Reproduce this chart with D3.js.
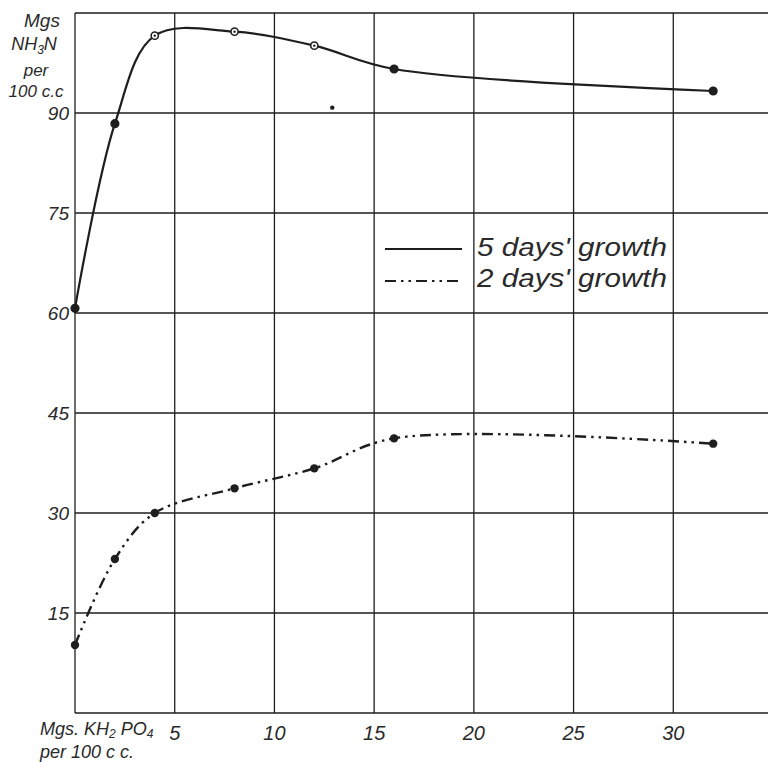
<!DOCTYPE html>
<html>
<head>
<meta charset="utf-8">
<script src="https://cdn.jsdelivr.net/npm/d3@7"></script>
<style>
  html, body { margin: 0; padding: 0; background: #fff; }
  svg { display: block; }
  text { font-family: "Liberation Sans", "DejaVu Sans", sans-serif; font-style: italic; fill: #2a2a2a; }
</style>
</head>
<body>
<svg id="chart" width="768" height="762"></svg>
<script>
// ---- data ----
const kh2po4 = [0, 2, 4, 8, 12, 16, 32];                 // mgs KH2PO4 per 100 cc
const fiveDays = [60.7, 88.4, 101.6, 102.2, 100.1, 96.6, 93.3];  // mgs NH3-N per 100 cc
const fiveDaysOpen = [false, false, true, true, true, false, false];
const twoDays = [10.2, 23.1, 30.0, 33.7, 36.7, 41.2, 40.4];
const strayMarks = [[12.9, 90.8]];
const xGrid = [0, 5, 10, 15, 20, 25, 30, 35];
const xTickLabels = ["5", "10", "15", "20", "25", "30"];
const xTickValues = [5, 10, 15, 20, 25, 30];
const yGrid = [0, 15, 30, 45, 60, 75, 90, 105];
const yTickValues = [15, 30, 45, 60, 75, 90];
const yTickLabels = ["15", "30", "45", "60", "75", "90"];
const seriesNames = ["5 days' growth", "2 days' growth"];

// ---- drawing ----
const svg = d3.select("#chart");
const x = d3.scaleLinear().domain([0, 35]).range([75, 773]);
const y = d3.scaleLinear().domain([0, 105]).range([713, 13]);
const ink = "#1e1e1e";

// grid
const grid = svg.append("g").attr("stroke", ink).attr("stroke-width", 1.3);
grid.selectAll("line.v").data(xGrid).join("line")
  .attr("x1", d => x(d)).attr("x2", d => x(d))
  .attr("y1", y(105)).attr("y2", y(0));
grid.selectAll("line.h").data(yGrid).join("line")
  .attr("x1", x(0)).attr("x2", x(35))
  .attr("y1", d => y(d)).attr("y2", d => y(d));

// x tick labels
svg.append("g").selectAll("text").data(xTickValues).join("text")
  .attr("x", d => x(d)).attr("y", 740)
  .attr("text-anchor", "middle").attr("font-size", 20)
  .text((d, i) => xTickLabels[i]);

// y tick labels
svg.append("g").selectAll("text").data(yTickValues).join("text")
  .attr("x", 69).attr("y", d => y(d) + 7)
  .attr("text-anchor", "end").attr("font-size", 19)
  .text((d, i) => yTickLabels[i]);

// y axis title
const yt = svg.append("g").attr("font-size", 18);
yt.append("text").attr("x", 42).attr("y", 27).attr("font-size", 19).attr("text-anchor", "middle").text("Mgs");
const nh = yt.append("text").attr("x", 34).attr("y", 50).attr("text-anchor", "middle");
nh.append("tspan").text("NH");
nh.append("tspan").attr("dy", 4).attr("font-size", 12).text("3");
nh.append("tspan").attr("dy", -4).text("N");
yt.append("text").attr("x", 36).attr("y", 76).attr("font-size", 17).attr("text-anchor", "middle").text("per");
yt.append("text").attr("x", 36).attr("y", 97).attr("font-size", 17).attr("text-anchor", "middle").text("100 c.c");

// x axis title
const xt = svg.append("g").attr("font-size", 18);
const kt = xt.append("text").attr("x", 40).attr("y", 735);
kt.append("tspan").text("Mgs. KH");
kt.append("tspan").attr("dy", 3).attr("font-size", 12).text("2");
kt.append("tspan").attr("dy", -3).text(" PO");
kt.append("tspan").attr("dy", 3).attr("font-size", 12).text("4");
xt.append("text").attr("x", 40).attr("y", 758).text("per 100 c c.");

// curves
const line = d3.line()
  .x((d, i) => x(kh2po4[i]))
  .y(d => y(d))
  .curve(d3.curveCatmullRom.alpha(0.5));

svg.append("path").datum(fiveDays)
  .attr("d", line).attr("fill", "none")
  .attr("stroke", ink).attr("stroke-width", 2.2);

svg.append("path").datum(twoDays)
  .attr("d", line).attr("fill", "none")
  .attr("stroke", ink).attr("stroke-width", 2.4)
  .attr("stroke-dasharray", "11,5,2.5,5,2.5,5");

// markers
svg.append("g").selectAll("circle").data(fiveDays).join("circle")
  .attr("cx", (d, i) => x(kh2po4[i])).attr("cy", d => y(d))
  .attr("r", (d, i) => fiveDaysOpen[i] ? 3.6 : 3.8)
  .attr("fill", (d, i) => fiveDaysOpen[i] ? "#fff" : ink)
  .attr("stroke", ink).attr("stroke-width", 1.6);
svg.append("g").selectAll("circle").data(fiveDays.filter((d, i) => fiveDaysOpen[i])).join("circle")
  .attr("cx", d => x(kh2po4[fiveDays.indexOf(d)])).attr("cy", d => y(d))
  .attr("r", 1.2).attr("fill", ink);

svg.append("g").selectAll("circle").data(twoDays).join("circle")
  .attr("cx", (d, i) => x(kh2po4[i])).attr("cy", d => y(d))
  .attr("r", 4.2).attr("fill", ink);

svg.append("g").selectAll("circle").data(strayMarks).join("circle")
  .attr("cx", d => x(d[0])).attr("cy", d => y(d[1]))
  .attr("r", 2.2).attr("fill", ink);

// legend
const lg = svg.append("g");
lg.append("line").attr("x1", 385).attr("x2", 462).attr("y1", 249).attr("y2", 249)
  .attr("stroke", ink).attr("stroke-width", 1.8);
lg.append("line").attr("x1", 385).attr("x2", 462).attr("y1", 281).attr("y2", 281)
  .attr("stroke", ink).attr("stroke-width", 2)
  .attr("stroke-dasharray", "11,5,2.5,5,2.5,5");
lg.selectAll("text").data(seriesNames).join("text")
  .attr("x", 477).attr("y", (d, i) => 256 + i * 31)
  .attr("font-size", 25)
  .attr("textLength", 190).attr("lengthAdjust", "spacingAndGlyphs")
  .text(d => d);
</script>
</body>
</html>
